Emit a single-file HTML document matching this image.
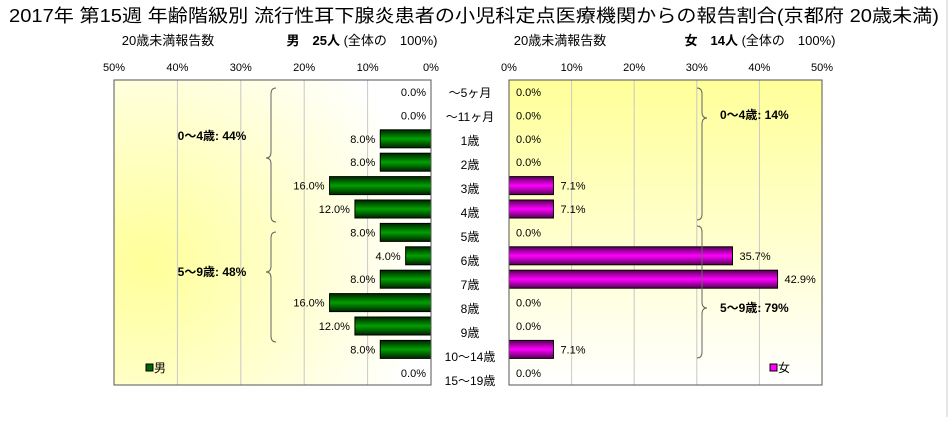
<!DOCTYPE html>
<html><head><meta charset="utf-8"><style>
body{margin:0;background:#fff;width:949px;height:417px;overflow:hidden;font-family:"Liberation Sans","Noto Sans CJK JP",sans-serif}
svg text{font-family:"Liberation Sans","Noto Sans CJK JP",sans-serif}
</style></head><body>
<svg width="949" height="417">
<defs>
<radialGradient id="gl" cx="0.1" cy="0.6" r="0.9"><stop offset="0" stop-color="#ffff99"/><stop offset="1" stop-color="#ffffff"/></radialGradient>
<linearGradient id="gr" x1="0" y1="0" x2="0" y2="1"><stop offset="0" stop-color="#ffff99"/><stop offset="1" stop-color="#ffffff"/></linearGradient>
<linearGradient id="gg" x1="0" y1="0" x2="0" y2="1"><stop offset="0" stop-color="#002200"/><stop offset="0.5" stop-color="#00a000"/><stop offset="1" stop-color="#002200"/></linearGradient>
<linearGradient id="gm" x1="0" y1="0" x2="0" y2="1"><stop offset="0" stop-color="#550055"/><stop offset="0.5" stop-color="#ff00ff"/><stop offset="1" stop-color="#550055"/></linearGradient>
</defs>
<line x1="947" y1="0" x2="947" y2="417" stroke="#ccc"/>
<text x="474" y="22" text-anchor="middle" font-size="18" textLength="930" lengthAdjust="spacingAndGlyphs">2017年 第15週 年齢階級別 流行性耳下腺炎患者の小児科定点医療機関からの報告割合(京都府 20歳未満)</text>
<text x="168" y="45" text-anchor="middle" font-size="13">20歳未満報告数</text>
<text x="362" y="45" text-anchor="middle" font-size="13"><tspan font-weight="bold">男　25人</tspan> (全体の　100%)</text>
<text x="560" y="45" text-anchor="middle" font-size="13">20歳未満報告数</text>
<text x="760" y="45" text-anchor="middle" font-size="13"><tspan font-weight="bold">女　14人</tspan> (全体の　100%)</text>
<rect x="114" y="80" width="317" height="305" fill="url(#gl)"/>
<rect x="509" y="80" width="313" height="305" fill="url(#gr)"/>
<g id="g"></g>
<rect x="114" y="80" width="317" height="305" fill="none" stroke="#555"/>
<rect x="509" y="80" width="313" height="305" fill="none" stroke="#555"/>
<path d="M276 88 q-5 0 -5 6 v58 q0 6 -5 6 q5 0 5 6 v52 q0 6 5 6" fill="none" stroke="#666"/>
<text x="212" y="140" text-anchor="middle" font-size="12" font-weight="bold">0～4歳: 44%</text>
<path d="M276 232 q-5 0 -5 6 v28 q0 6 -5 6 q5 0 5 6 v58 q0 6 5 6" fill="none" stroke="#666"/>
<text x="212" y="276" text-anchor="middle" font-size="12" font-weight="bold">5～9歳: 48%</text>
<path d="M697 88 q5 0 5 6 v18 q0 6 5 6 q-5 0 -5 6 v90 q0 6 -5 6" fill="none" stroke="#666"/>
<text x="720" y="119" font-size="12" font-weight="bold">0～4歳: 14%</text>
<path d="M697 226 q5 0 5 6 v70 q0 6 5 6 q-5 0 -5 6 v38 q0 6 -5 6" fill="none" stroke="#666"/>
<text x="720" y="312" font-size="12" font-weight="bold">5～9歳: 79%</text>
<rect x="146" y="364" width="7" height="7" fill="#006600" stroke="#000"/>
<text x="154" y="372" font-size="12">男</text>
<rect x="770" y="364" width="7" height="7" fill="#ff00ff" stroke="#000"/>
<text x="778" y="372" font-size="12">女</text>
</svg>
<script>
const categories=["～5ヶ月","～11ヶ月","1歳","2歳","3歳","4歳","5歳","6歳","7歳","8歳","9歳","10～14歳","15～19歳"];
const maleValues=[0,0,8,8,16,12,8,4,8,16,12,8,0];
const femaleValues=[0,0,0,0,7.1,7.1,0,35.7,42.9,0,0,7.1,0];
const ticks=[0,10,20,30,40,50];
const NS="http://www.w3.org/2000/svg";
const g=document.getElementById('g');
const xL=v=>431-v*317/50, xR=v=>509+v*313/50, yC=i=>92+i*23.4, yT=i=>92+i*24;
function mk(t,a,txt){const e=document.createElementNS(NS,t);for(const k in a)e.setAttribute(k,a[k]);if(txt!==undefined)e.textContent=txt;g.appendChild(e);return e;}
ticks.forEach(t=>{
 if(t>0&&t<50){let l=mk('line',{x1:xL(t),x2:xL(t),y1:80,y2:385,stroke:'#c8c8c8'});
 
 let r=mk('line',{x1:xR(t),x2:xR(t),y1:80,y2:385,stroke:'#c8c8c8'});
 }
 let a=mk('text',{x:xL(t),y:71,'text-anchor':'middle','font-size':11},t+'%');
 
 let b=mk('text',{x:xR(t),y:71,'text-anchor':'middle','font-size':11},t+'%');
 
});
categories.forEach((c,i)=>{
 const y=yC(i);
 let cl=mk('text',{x:470,y:yT(i)+5,'text-anchor':'middle','font-size':12},c);
 
 const m=maleValues[i];
 if(m>0){let b=mk('rect',{x:xL(m),y:y-9,width:431-xL(m),height:18,fill:'url(#gg)',stroke:'#000'});
 }
 let ml=mk('text',{x:(m>0?xL(m):431)-5,y:y+4,'text-anchor':'end','font-size':11},m.toFixed(1)+'%');
 
 const f=femaleValues[i];
 if(f>0){let b=mk('rect',{x:509,y:y-9,width:xR(f)-509,height:18,fill:'url(#gm)',stroke:'#000'});
 }
 let fl=mk('text',{x:(f>0?xR(f)+7:516),y:y+4,'font-size':11},f.toFixed(1)+'%');
 
});
</script>
</body></html>
